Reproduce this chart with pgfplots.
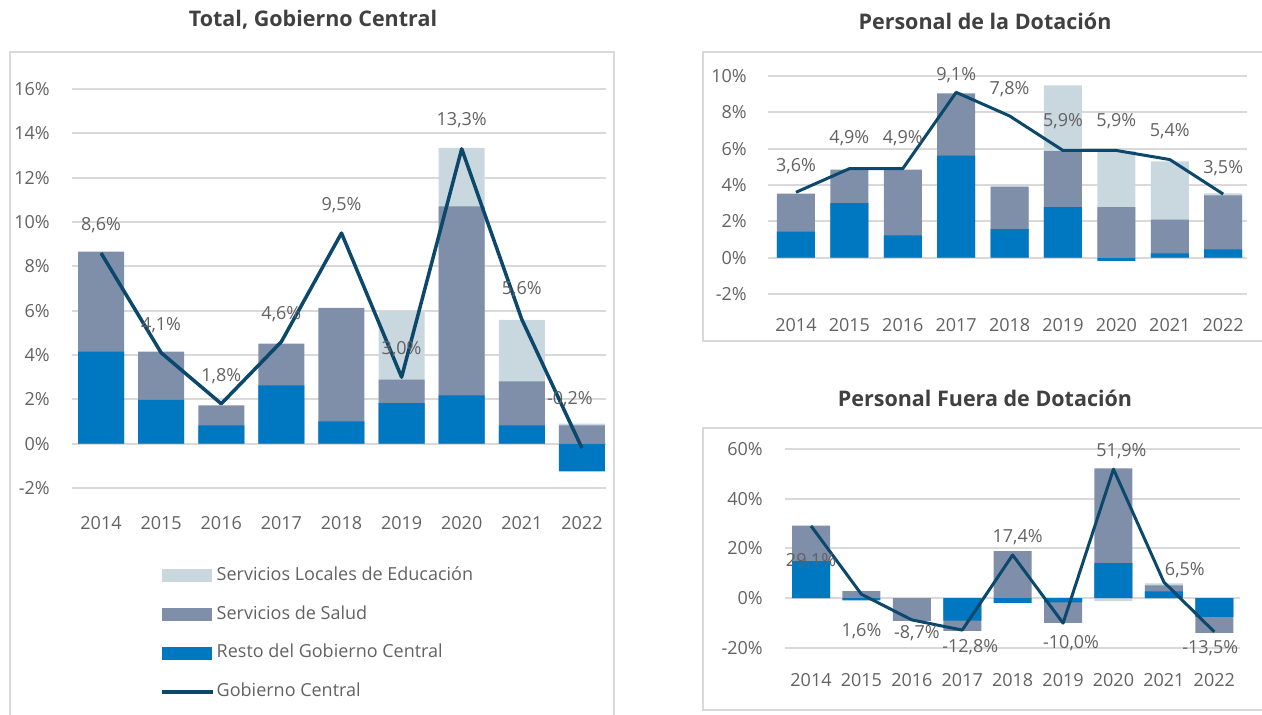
\documentclass[border=0pt]{standalone}
\usepackage{fontspec}
\setmainfont{Open Sans}
\usepackage{pgfplots}
\pgfplotsset{compat=1.18}
\usepackage{pgfplotstable}

\definecolor{sle}{HTML}{C9D7DF}
\definecolor{salud}{HTML}{7F8FA9}
\definecolor{resto}{HTML}{0077C1}
\definecolor{linec}{HTML}{0B486B}
\definecolor{gridc}{HTML}{D9D9D9}
\definecolor{textc}{HTML}{626262}
\definecolor{titlec}{HTML}{404040}

\newcommand{\tf}{\fontsize{18}{21}\selectfont}
\newcommand{\ttl}{\bfseries\fontsize{21.5}{25}\selectfont}

% bars are overlaid from zero: each value is the top (or bottom) of that segment
% Total, Gobierno Central
\pgfplotstableread{
x y
5 5.97
6 13.34
7 5.59
8 0.90
}\totsle
\pgfplotstableread{
x y
0 8.66
1 4.15
2 1.73
3 4.51
4 6.13
5 2.89
6 10.70
7 2.81
8 0.83
}\totsal
\pgfplotstableread{
x y
0 4.15
1 1.98
2 0.83
3 2.63
4 1.00
5 1.83
6 2.18
7 0.83
8 -1.25
}\totres
\pgfplotstableread{
x y lab dx dy
0 8.6 8,6 0 28
1 4.1 4,1 0 28
2 1.8 1,8 0 28
3 4.6 4,6 0 28
4 9.5 9,5 0 28
5 3.0 3,0 0 28
6 13.3 13,3 0 29
7 5.6 5,6 0 30
8 -0.2 -0,2 -12 49
}\totlin

% Personal de la Dotacion
\pgfplotstableread{
x y
4 4.00
5 9.48
6 5.86
7 5.30
8 3.54
}\dotsle
\pgfplotstableread{
x y
0 3.52
1 4.84
2 4.84
3 9.04
4 3.89
5 5.86
6 2.78
7 2.10
8 3.43
}\dotsal
\pgfplotstableread{
x y
0 1.44
1 3.00
2 1.23
3 5.62
4 1.57
5 2.78
6 -0.18
7 0.24
8 0.46
}\dotres
\pgfplotstableread{
x y lab dx dy
0 3.6 3,6 0 26
1 4.9 4,9 0 30
2 4.9 4,9 0 30
3 9.1 9,1 0 17
4 7.8 7,8 0 27
5 5.9 5,9 0 29
6 5.9 5,9 0 29
7 5.4 5,4 0 28
8 3.5 3,5 0 26
}\dotlin

% Personal Fuera de Dotacion
\pgfplotstableread{
x y
6 -1.2
7 6.0
}\fdsle
\pgfplotstableread{
x y
0 29.2
1 2.9
2 -9.1
3 -13.1
4 18.9
5 -9.9
6 52.2
7 5.2
8 -13.9
}\fdsal
\pgfplotstableread{
x y
0 14.9
1 -0.9
3 -9.0
4 -1.9
5 -1.7
6 14.1
7 2.8
8 -7.5
}\fdres
\pgfplotstableread{
x y lab dx dy
0 29.1 29,1 0 -35
1 1.6 1,6 0 -37
2 -8.7 -8,7 5 -13
3 -12.8 -12,8 8 -17
4 17.4 17,4 5 18
5 -10.0 -10,0 8 -20
6 51.9 51,9 8 18
7 6.5 6,5 21 12
8 -13.5 -13,5 -4 -16
}\fdlin

\pgfplotsset{
  panel/.style={
    scale only axis, clip=false, anchor=south west,
    axis line style={draw=none},
    major tick length=0pt,
    ymajorgrids, grid style={gridc, line width=2pt},
    xtick={0,...,8},
    xticklabels={2014,2015,2016,2017,2018,2019,2020,2021,2022},
    tick label style={font=\tf, text=textc, inner sep=0pt},
    yticklabel style={anchor=east},
    xticklabel style={anchor=north},
  },
  seg/.style={ybar, bar shift=0pt, bar width=#1, draw=none, forget plot},
  tot/.style={linec, line width=#1, mark=none, line join=round, forget plot,
    nodes near coords={\pgfplotspointmeta\%},
    point meta=explicit symbolic,
    visualization depends on={\thisrow{dx}\as\dx},
    visualization depends on={\thisrow{dy}\as\dy},
    every node near coord/.append style={anchor=center, xshift=\dx pt,
      yshift=\dy pt, font=\tf, text=textc, inner sep=0pt}},
  barleg/.style={legend image code/.code={\fill[##1] (0pt,-6.5pt) rectangle (50pt,6.5pt);}},
  linleg/.style={legend image code/.code={\draw[##1] (0pt,0pt) -- (51pt,0pt);}},
}

\begin{document}
\begin{tikzpicture}
\useasboundingbox (0,0) rectangle (1262pt,715pt);

\draw[gridc, line width=2pt] (10pt,-10pt) -- (10pt,663pt) -- (614pt,663pt) -- (614pt,-10pt);
\draw[gridc, line width=2pt] (703pt,374pt) rectangle (1275pt,663pt);
\draw[gridc, line width=2pt] (703pt,5pt) rectangle (1275pt,287pt);

\node[font=\ttl, text=titlec] at (313pt,695pt) {Total, Gobierno Central};
\node[font=\ttl, text=titlec] at (985pt,694pt) {Personal de la Dotación};
\node[font=\ttl, text=titlec] at (985pt,317pt) {Personal Fuera de Dotación};

\begin{axis}[panel, at={(72pt,227pt)}, width=534pt, height=399pt,
  xmin=-0.483, xmax=8.40, ymin=-2, ymax=16,
  ytick={-2,0,...,16},
  yticklabels={-2\%,0\%,2\%,4\%,6\%,8\%,10\%,12\%,14\%,16\%},
  yticklabel style={xshift=-22pt}, xticklabel style={yshift=-28pt},
  legend cell align=left,
  legend style={at={(axis description cs:0.1648,-0.193)}, anchor=north west,
    draw=none, fill=none, inner sep=0pt, font=\tf, text=textc, row sep=17.8pt,
    nodes={inner sep=2pt, text height=13pt, text depth=4pt}},
]
\addplot[seg=46pt, fill=sle] table[x=x,y=y] {\totsle};
\addplot[seg=46pt, fill=salud] table[x=x,y=y] {\totsal};
\addplot[seg=46pt, fill=resto] table[x=x,y=y] {\totres};
\addplot[tot=3.5pt] table[x=x,y=y,meta=lab] {\totlin};

\addlegendimage{fill=sle, draw=none, barleg}
\addlegendentry{Servicios Locales de Educación}
\addlegendimage{fill=salud, draw=none, barleg}
\addlegendentry{Servicios de Salud}
\addlegendimage{fill=resto, draw=none, barleg}
\addlegendentry{Resto del Gobierno Central}
\addlegendimage{linec, line width=3.5pt, linleg}
\addlegendentry{Gobierno Central}
\end{axis}

\begin{axis}[panel, at={(768pt,421pt)}, width=479pt, height=218pt,
  xmin=-0.524, xmax=8.446, ymin=-2, ymax=10,
  ytick={-2,0,...,10},
  yticklabels={-2\%,0\%,2\%,4\%,6\%,8\%,10\%},
  yticklabel style={xshift=-21pt}, xticklabel style={yshift=-24.6pt},
]
\addplot[seg=38pt, fill=sle] table[x=x,y=y] {\dotsle};
\addplot[seg=38pt, fill=salud] table[x=x,y=y] {\dotsal};
\addplot[seg=38pt, fill=resto] table[x=x,y=y] {\dotres};
\addplot[tot=3pt] table[x=x,y=y,meta=lab] {\dotlin};
\end{axis}

\begin{axis}[panel, at={(785pt,67pt)}, width=455pt, height=199pt,
  xmin=-0.516, xmax=8.51, ymin=-20, ymax=60,
  ytick={-20,0,...,60},
  yticklabels={-20\%,0\%,20\%,40\%,60\%},
  yticklabel style={xshift=-22pt}, xticklabel style={yshift=-25.6pt},
]
\addplot[seg=38pt, fill=sle] table[x=x,y=y] {\fdsle};
\addplot[seg=38pt, fill=salud] table[x=x,y=y] {\fdsal};
\addplot[seg=38pt, fill=resto] table[x=x,y=y] {\fdres};
\addplot[tot=3pt] table[x=x,y=y,meta=lab] {\fdlin};
\end{axis}
\end{tikzpicture}
\end{document}
